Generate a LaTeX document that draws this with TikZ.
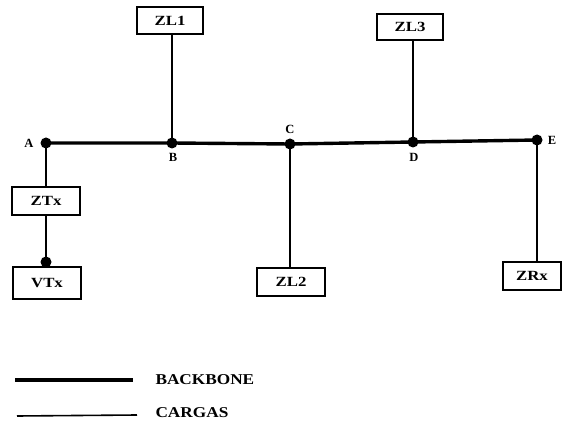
\documentclass[tikz,border=0pt]{standalone}
\usepackage{fontspec}
\setmainfont{Liberation Serif}
\begin{document}
\begin{tikzpicture}[x=1pt,y=-1pt,
  box/.style={draw,line width=1.9pt,minimum height=28pt,inner sep=0pt,font=\fontsize{14}{16}\selectfont\bfseries},
  bb/.style={line width=3.4pt},
  load/.style={line width=1.6pt},
  dotn/.style={circle,fill,inner sep=0pt,minimum size=11pt},
  lbl/.style={font=\fontsize{12.5}{14}\selectfont\bfseries},
  leg/.style={font=\fontsize{15}{17}\selectfont\bfseries,anchor=west}]
\useasboundingbox (0,0) rectangle (563,425);
% backbone points
\node[dotn] (A) at (46,143) {};
\node[dotn] (B) at (172,143) {};
\node[dotn] (C) at (290,144) {};
\node[dotn] (D) at (413,142) {};
\node[dotn] (E) at (537,140) {};
\node[lbl] (la) at (29,143) {A};
\node[lbl] (lb) at (173,157) {B};
\node[lbl] (lc) at (290,129) {C};
\node[lbl] (ld) at (414,157) {D};
\node[lbl] (le) at (552,140) {E};
% boxes
\node[box,minimum width=66pt,minimum height=27pt] (ZL1) at (170,20.5) {\scalebox{1.2}[1]{ZL1}};
\node[box,minimum width=66pt,minimum height=26pt] (ZL3) at (410,27) {\scalebox{1.2}[1]{ZL3}};
\node[box,minimum width=68pt] (ZTx) at (46,201) {\scalebox{1.2}[1]{ZTx}};
\node[box,minimum width=68pt,minimum height=32pt] (VTx) at (47,283) {\scalebox{1.2}[1]{VTx}};
\node[box,minimum width=68pt] (ZL2) at (291,282) {\scalebox{1.2}[1]{ZL2}};
\node[box,minimum width=58pt] (ZRx) at (532,276) {\scalebox{1.2}[1]{ZRx}};
\node[dotn] (V) at (46,262) {};
% backbone
\draw[bb] (A.center) -- (B.center) -- (C.center) -- (D.center) -- (E.center);
% loads
\draw[load] (ZL1.south -| B) -- (B.center);
\draw[load] (ZL3.south -| D) -- (D.center);
\draw[load] (C.center) -- (C |- ZL2.north);
\draw[load] (E.center) -- (E |- ZRx.north);
\draw[load] (A.center) -- (A |- ZTx.north);
\draw[load] (V |- ZTx.south) -- (V.center);
% legend
\coordinate (l1a) at (15,380);
\coordinate (l1b) at (133,380);
\coordinate (l2a) at (17,416);
\coordinate (l2b) at (137,415);
\draw[bb] (l1a) -- (l1b);
\draw[load] (l2a) -- (l2b);
\node[leg] (t1) at (152,380) {\scalebox{1.15}[1]{BACKBONE}};
\node[leg] (t2) at (152,413) {\scalebox{1.15}[1]{CARGAS}};
\end{tikzpicture}
\end{document}
